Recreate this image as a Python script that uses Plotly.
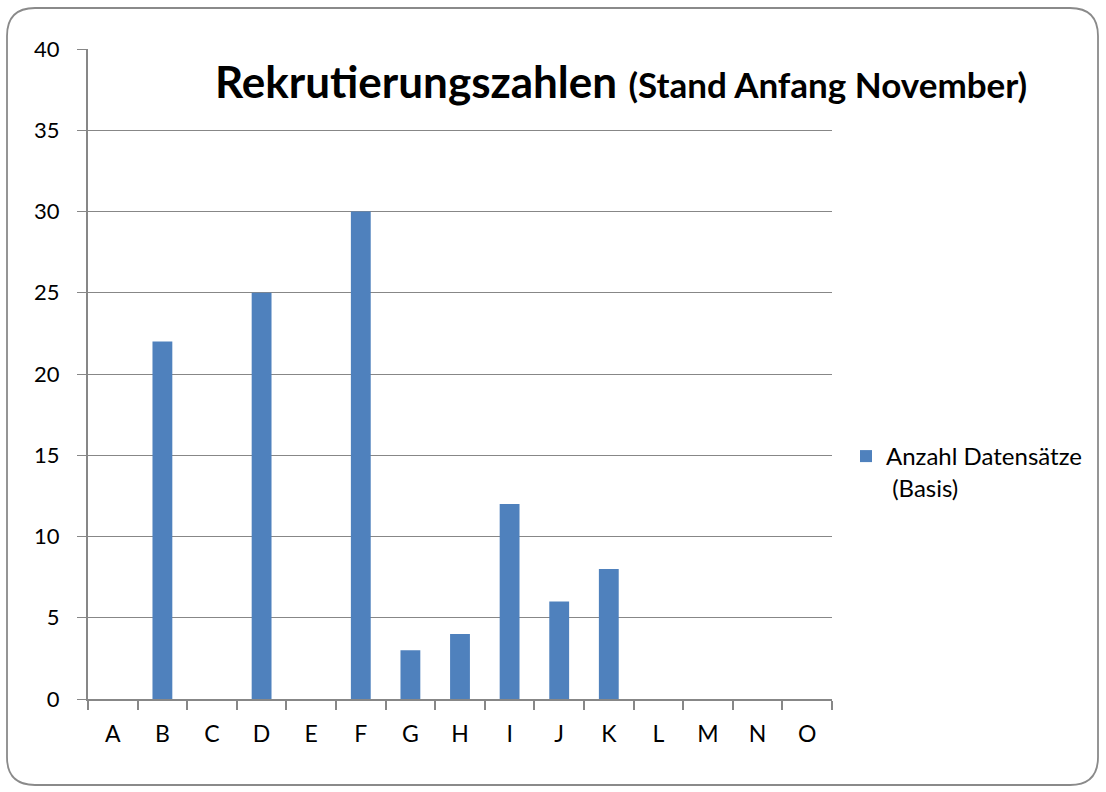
import plotly.graph_objects as go

categories = ["A", "B", "C", "D", "E", "F", "G", "H", "I", "J", "K", "L", "M", "N", "O"]
values = [0, 22, 0, 25, 0, 30, 3, 4, 12, 6, 8, 0, 0, 0, 0]
series_name = "Anzahl Datensätze<br> (Basis)"
y_ticks = [0, 5, 10, 15, 20, 25, 30, 35, 40]

W, H = 1106, 792
L, R, T, B = 88, 832, 49, 699
FONT = "Lato"
GRAY = "#878787"


def px(x):
    return (x - L) / (R - L)


def py(y):
    return (B - y) / (B - T)


fig = go.Figure()
fig.add_trace(go.Bar(
    x=categories, y=values, name=series_name,
    marker=dict(color="#4F81BD", line=dict(width=0)),
    showlegend=True,
))

# rounded outer border
x0, x1, y0, y1, r = 7, 1098, 8, 785, 28
path = (
    f"M {px(x0 + r)},{py(y0)} L {px(x1 - r)},{py(y0)} "
    f"Q {px(x1)},{py(y0)} {px(x1)},{py(y0 + r)} "
    f"L {px(x1)},{py(y1 - r)} Q {px(x1)},{py(y1)} {px(x1 - r)},{py(y1)} "
    f"L {px(x0 + r)},{py(y1)} Q {px(x0)},{py(y1)} {px(x0)},{py(y1 - r)} "
    f"L {px(x0)},{py(y0 + r)} Q {px(x0)},{py(y0)} {px(x0 + r)},{py(y0)} Z"
)
fig.add_shape(type="path", path=path, xref="paper", yref="paper",
              line=dict(color="#8A8A8A", width=1.8), layer="below")

fig.add_annotation(
    text="<b>Rekrutierungszahlen</b> <b><span style='font-size:35px'>(Stand Anfang November)</span></b>",
    xref="paper", yref="paper", x=px(621), y=py(81), xanchor="center", yanchor="middle",
    showarrow=False, font=dict(family=FONT, size=44, color="#000000"),
)

fig.update_layout(
    width=W, height=H,
    margin=dict(l=L, r=W - R, t=T, b=H - B),
    paper_bgcolor="white", plot_bgcolor="white",
    font=dict(family=FONT, size=24, color="#000000"),
    bargap=0.6,
    legend=dict(x=px(846), y=py(434), xanchor="left", yanchor="top", valign="top",
                font=dict(family=FONT, size=24, color="#000000"),
                itemwidth=30, bgcolor="rgba(0,0,0,0)"),
    xaxis=dict(
        type="category", categoryorder="array", categoryarray=categories,
        showline=True, linecolor=GRAY, linewidth=2,
        ticks="outside", tickson="boundaries", ticklen=9, tickcolor=GRAY, tickwidth=2,
        showgrid=False, ticklabelstandoff=13, tickfont=dict(size=23),
    ),
    yaxis=dict(
        range=[0, 40], tickvals=y_ticks, ticktext=[str(v) for v in y_ticks],
        showline=True, linecolor=GRAY, linewidth=2,
        ticks="outside", ticklen=9, tickcolor=GRAY, tickwidth=1,
        showgrid=True, gridcolor=GRAY, gridwidth=1, zeroline=False,
        ticklabelstandoff=13, tickfont=dict(size=22),
    ),
)

fig.write_html("out.html", config={"displayModeBar": False},
               post_script="document.body.style.margin='0px';")
